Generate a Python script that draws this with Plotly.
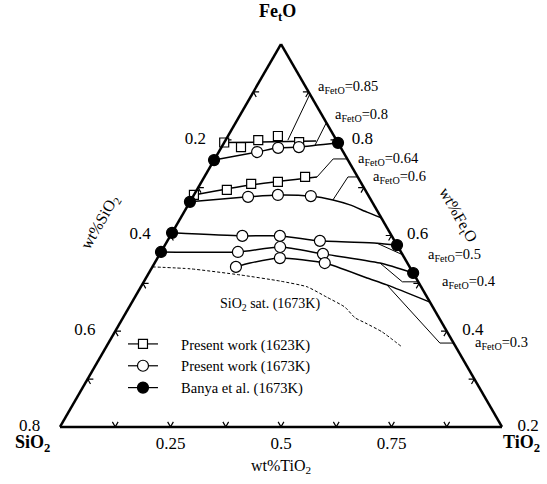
import plotly.graph_objects as go

SERIF = "Liberation Serif, Times New Roman, serif"
NBSP = "\u00a0"

# Compositions are mass fractions of FetO and TiO2; SiO2 is the balance.

# Iso-activity lines of FetO
ISO_085_FEO = [0.743, 0.744, 0.747]
ISO_085_TIO2 = [0.000, 0.081, 0.206]

ISO_080_FEO = [0.697, 0.718, 0.729, 0.731, 0.742]
ISO_080_TIO2 = [0.000, 0.087, 0.129, 0.175, 0.258]

ISO_064_FEO = [0.606, 0.632, 0.653]
ISO_064_TIO2 = [0.000, 0.114, 0.255]

ISO_060_FEO = [0.588, 0.601, 0.606, 0.603, 0.593, 0.580, 0.561, 0.546]
ISO_060_TIO2 = [0.000, 0.125, 0.190, 0.266, 0.321, 0.366, 0.414, 0.454]

ISO_050_FEO = [0.507, 0.499, 0.499, 0.486, 0.480, 0.475]
ISO_050_TIO2 = [0.000, 0.163, 0.248, 0.345, 0.477, 0.525]

ISO_040_FEO = [0.457, 0.457, 0.470, 0.452, 0.428, 0.402]
ISO_040_TIO2 = [0.000, 0.174, 0.263, 0.369, 0.510, 0.598]

ISO_030_FEO = [0.418, 0.428, 0.441, 0.428, 0.389, 0.371, 0.326]
ISO_030_TIO2 = [0.189, 0.216, 0.277, 0.385, 0.500, 0.554, 0.674]

# SiO2 saturation boundary at 1673 K
SAT_FEO = [0.418, 0.413, 0.397, 0.381, 0.366, 0.339, 0.313, 0.285, 0.272, 0.248, 0.209]
SAT_TIO2 = [0.000, 0.088, 0.209, 0.307, 0.376, 0.434, 0.488, 0.525, 0.554, 0.605, 0.669]

# Present work, 1623 K
SQ_FEO = [0.743, 0.731, 0.749, 0.760, 0.744, 0.606, 0.619, 0.635, 0.640, 0.653]
SQ_TIO2 = [0.000, 0.044, 0.074, 0.113, 0.169, 0.000, 0.068, 0.115, 0.173, 0.228]

# Present work, 1673 K
OC_FEO = [0.718, 0.729, 0.731, 0.601, 0.606, 0.603, 0.499, 0.499, 0.486,
          0.457, 0.470, 0.452, 0.418, 0.441, 0.428]
OC_TIO2 = [0.087, 0.129, 0.175, 0.125, 0.190, 0.266, 0.163, 0.248, 0.345,
           0.174, 0.263, 0.369, 0.189, 0.277, 0.385]

# Banya et al., 1673 K
BA_FEO = [0.697, 0.742, 0.588, 0.546, 0.507, 0.475, 0.457, 0.402, 0.326]
BA_TIO2 = [0.000, 0.258, 0.000, 0.454, 0.000, 0.525, 0.000, 0.598, 0.674]

# Leader lines from each curve to its activity label
ACTIVITIES = ["0.85", "0.8", "0.64", "0.6", "0.5", "0.4", "0.3"]
LEADER_FEO = [
    [0.749, 0.888],
    [0.736, 0.815],
    [0.653, 0.700, 0.700],
    [0.593, 0.653, 0.653],
    [0.480, 0.449, 0.449],
    [0.428, 0.379, 0.379],
    [0.371, 0.219, 0.219],
]
LEADER_TIO2 = [
    [0.141, 0.129],
    [0.209, 0.204],
    [0.255, 0.268, 0.313],
    [0.321, 0.325, 0.371],
    [0.477, 0.552, 0.597],
    [0.510, 0.585, 0.664],
    [0.554, 0.750, 0.818],
]

# Axis ticks every 1/8; labelled positions and their texts
TICK_VALS = [i / 8 for i in range(9)]
A_LABELS = {0.0: "0.8", 0.25: "0.6", 0.5: "0.4", 0.75: "0.2"}
B_LABELS = {0.75: "0.25", 0.5: "0.5", 0.25: "0.75"}
C_LABELS = {0.25: "0.8", 0.5: "0.6", 0.75: "0.4", 1.0: "0.2"}
TICK_ARM = 0.013  # length of each arm of the chevron tick marks


def silica(feo, tio2):
    return [None if f is None else 1 - f - t for f, t in zip(feo, tio2)]


def to_paper(feo, tio2):
    # position inside the ternary domain (triangle fills the plot area)
    return tio2 + feo / 2, feo


def chevron_ticks():
    # small inward-opening chevrons on all three edges, arms along grid directions
    feo, tio2 = [], []
    d = TICK_ARM
    for t in TICK_VALS[1:-1]:
        # bottom edge (FetO = 0), TiO2 = t
        feo += [d, 0, d, None]
        tio2 += [t - d, t, t, None]
        # left edge (TiO2 = 0), FetO = t
        feo += [t, t, t - d, None]
        tio2 += [d, 0, d, None]
        # right edge (SiO2 = 0), FetO = t
        feo += [t, t, t - d, None]
        tio2 += [1 - t - d, 1 - t, 1 - t, None]
    return feo, tio2


fig = go.Figure()

iso_lines = [
    (ISO_085_FEO, ISO_085_TIO2), (ISO_080_FEO, ISO_080_TIO2),
    (ISO_064_FEO, ISO_064_TIO2), (ISO_060_FEO, ISO_060_TIO2),
    (ISO_050_FEO, ISO_050_TIO2), (ISO_040_FEO, ISO_040_TIO2),
    (ISO_030_FEO, ISO_030_TIO2),
]
for feo, tio2 in iso_lines:
    fig.add_trace(go.Scatterternary(
        a=feo, b=silica(feo, tio2), c=tio2, mode="lines",
        line=dict(color="black", width=1.5, shape="spline", smoothing=0.6),
        showlegend=False, hoverinfo="skip"))

fig.add_trace(go.Scatterternary(
    a=SAT_FEO, b=silica(SAT_FEO, SAT_TIO2), c=SAT_TIO2, mode="lines",
    line=dict(color="black", width=1, dash="3px,2px", shape="spline", smoothing=0.5),
    showlegend=False, hoverinfo="skip"))

tick_feo, tick_tio2 = chevron_ticks()
fig.add_trace(go.Scatterternary(
    a=tick_feo, b=silica(tick_feo, tick_tio2), c=tick_tio2,
    mode="lines", connectgaps=False,
    line=dict(color="black", width=1.2),
    cliponaxis=False, showlegend=False, hoverinfo="skip"))

fig.add_trace(go.Scatterternary(
    a=[0.3185], b=silica([0.3185], [0.316]), c=[0.316], mode="text",
    text=["SiO<sub>2</sub> sat. (1673K)"], textposition="middle center",
    textfont=dict(family=SERIF, size=14, color="black"),
    cliponaxis=False, showlegend=False, hoverinfo="skip"))

annotations = []
for act, feo, tio2 in zip(ACTIVITIES, LEADER_FEO, LEADER_TIO2):
    fig.add_trace(go.Scatterternary(
        a=feo, b=silica(feo, tio2), c=tio2, mode="lines",
        line=dict(color="black", width=1),
        cliponaxis=False, showlegend=False, hoverinfo="skip"))
    px, py = to_paper(feo[-1], tio2[-1])
    annotations.append(dict(
        text=f"a<sub>FetO</sub>={act}", x=px, y=py, xref="paper", yref="paper",
        xanchor="left", yanchor="middle", xshift=3, showarrow=False,
        font=dict(size=14.5)))


def isolated(values):
    # separate every point by a gap so no connecting line is drawn
    out = []
    for v in values:
        out += [v, None]
    return out


series = [
    ("Present work (1623K)", SQ_FEO, SQ_TIO2, "square", "white", 9),
    ("Present work (1673K)", OC_FEO, OC_TIO2, "circle", "white", 11),
    ("Banya et al. (1673K)", BA_FEO, BA_TIO2, "circle", "black", 11),
]
for name, feo, tio2, symbol, fill, size in series:
    fig.add_trace(go.Scatterternary(
        a=isolated(feo), b=isolated(silica(feo, tio2)), c=isolated(tio2),
        mode="lines+markers", name=NBSP * 5 + name, connectgaps=False,
        line=dict(color="black", width=1.2),
        marker=dict(symbol=symbol, size=size, color=fill,
                    line=dict(color="black", width=1.2)),
        cliponaxis=False, hoverinfo="skip"))

axis_common = dict(
    tickmode="array", tickvals=TICK_VALS, ticks="",
    linecolor="black", linewidth=2.5,
    showgrid=False, tickfont=dict(family=SERIF, size=17, color="black"),
    min=0, title=dict(text=""),
)

# side labels sit a little further from the triangle than the default
a_text = [A_LABELS[v] + NBSP * 4 if v in A_LABELS else "" for v in TICK_VALS]
b_text = [B_LABELS.get(v, "") for v in TICK_VALS]
c_text = [NBSP * 3 + C_LABELS[v] if v in C_LABELS else "" for v in TICK_VALS]

annotations += [
    dict(text="<b>Fe<sub>t</sub>O</b>", x=0.493, y=1.081),
    dict(text="<b>SiO<sub>2</sub></b>", x=-0.063, y=-0.044),
    dict(text="<b>TiO<sub>2</sub></b>", x=1.045, y=-0.044),
]
for ann in annotations[-3:]:
    ann.update(xref="paper", yref="paper", xanchor="center", yanchor="middle",
               showarrow=False, font=dict(size=18))

annotations += [
    dict(text="wt%SiO<sub>2</sub>", x=0.0905, y=0.535, textangle=-60),
    dict(text="wt%Fe<sub>t</sub>O", x=0.9005, y=0.5535, textangle=60),
    dict(text="wt%TiO<sub>2</sub>", x=0.5, y=-0.102),
]
for ann in annotations[-3:]:
    ann.update(xref="paper", yref="paper", xanchor="center", yanchor="middle",
               showarrow=False, font=dict(size=16))

fig.update_layout(
    width=547, height=484,
    margin=dict(l=60, r=45, t=44, b=57),
    paper_bgcolor="white",
    font=dict(family=SERIF, color="black"),
    ternary=dict(
        sum=1, bgcolor="white", domain=dict(x=[0, 1], y=[0, 1]),
        aaxis=dict(ticktext=a_text, **axis_common),
        baxis=dict(ticktext=b_text, **axis_common),
        caxis=dict(ticktext=c_text, **axis_common),
    ),
    showlegend=True,
    legend=dict(x=0.1425, y=0.2585, xanchor="left", yanchor="top",
                font=dict(family=SERIF, size=14.5, color="black"),
                bgcolor="rgba(0,0,0,0)", tracegroupgap=0),
    annotations=annotations,
)

fig.write_html("out.html")
